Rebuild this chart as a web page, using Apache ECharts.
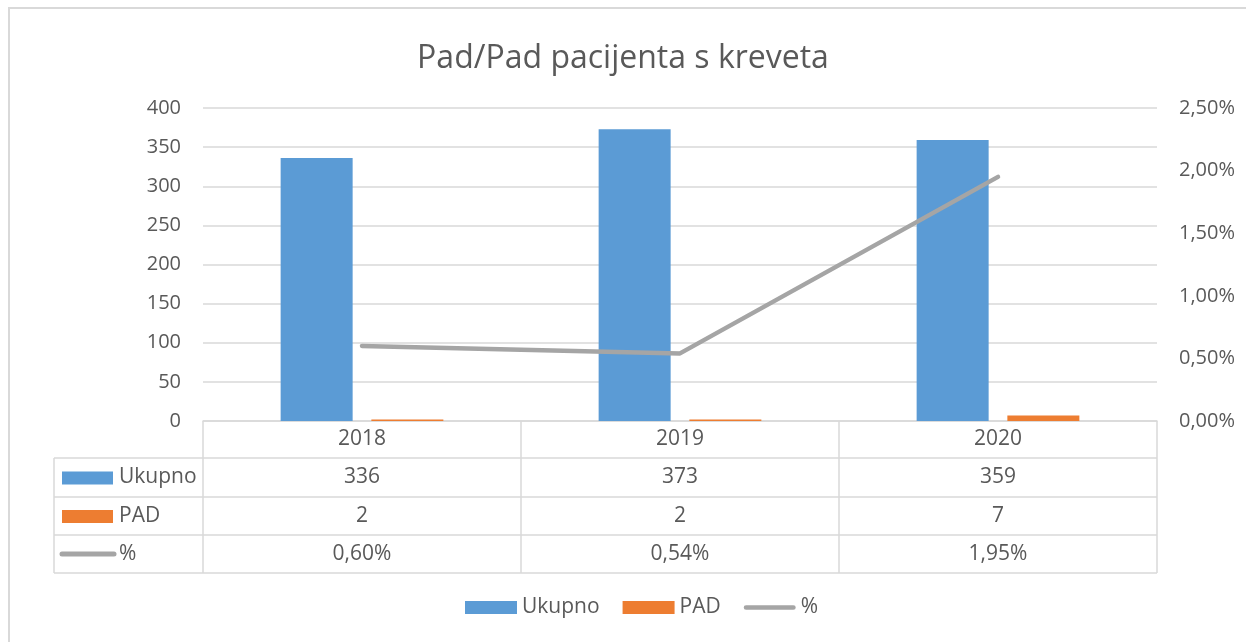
<!DOCTYPE html>
<html>
<head>
<meta charset="utf-8">
<script src="https://cdn.jsdelivr.net/npm/echarts@6/dist/echarts.min.js"></script>
<style>html,body{margin:0;padding:0;background:#fff;}#c{width:1246px;height:642px;}</style>
</head>
<body>
<div id="c"></div>
<script>
var categories = ['2018', '2019', '2020'];
var ukupno = [336, 373, 359];
var pad = [2, 2, 7];
var pct = [0.0060, 0.0054, 0.0195];
var seriesNames = ['Ukupno', 'PAD', '%'];

var FONT = 'Open Sans';
var TXT = '#595959';
var GRID = '#d9d9d9';
var BLUE = '#5b9bd5', ORANGE = '#ed7d31', GRAY = '#a5a5a5';
var FS = 20;   // axis labels
var FT = 21;   // table + legend

function fmtPct(v, d) { return (v * 100).toFixed(d).replace('.', ',') + '%'; }

var chart = echarts.init(document.getElementById('c'), null, {renderer: 'canvas'});
var G = {left: 203, right: 89, top: 108, bottom: 221};
chart.setOption({
  animation: false,
  textStyle: {fontFamily: FONT},
  title: {text: 'Pad/Pad pacijenta s kreveta', left: 'center', top: 38,
    textStyle: {fontFamily: FONT, fontSize: 32, fontWeight: 'normal', color: TXT}},
  grid: G,
  legend: {bottom: 19, left: 460, itemWidth: 52, itemHeight: 13, itemGap: 23,
    textStyle: {fontFamily: FONT, fontSize: FT, color: TXT},
    data: [{name: 'Ukupno', icon: 'rect'}, {name: 'PAD', icon: 'rect'},
      {name: '%', icon: 'path://M2.5,0 L53.5,0 A2.5,2.5 0 0 1 53.5,5 L2.5,5 A2.5,2.5 0 0 1 2.5,0 Z'}]},
  xAxis: {type: 'category', data: categories,
    axisLine: {lineStyle: {color: GRID, width: 1.5}}, axisTick: {show: false}, axisLabel: {show: false}},
  yAxis: [
    {type: 'value', min: 0, max: 400, interval: 50,
      axisLine: {show: false}, axisTick: {show: false},
      axisLabel: {color: TXT, fontSize: FS, fontFamily: FONT, margin: 22},
      splitLine: {lineStyle: {color: GRID, width: 1.5}}},
    {type: 'value', min: 0, max: 0.025, interval: 0.005,
      axisLine: {show: false}, axisTick: {show: false}, splitLine: {show: false},
      axisLabel: {color: TXT, fontSize: FS, fontFamily: FONT, margin: 22,
        formatter: function (v) { return fmtPct(v, 2); }}}
  ],
  series: [
    {name: seriesNames[0], type: 'bar', data: ukupno, barWidth: 72, barGap: '26%', itemStyle: {color: BLUE}},
    {name: seriesNames[1], type: 'bar', data: pad, barWidth: 72, itemStyle: {color: ORANGE}},
    {name: seriesNames[2], type: 'line', yAxisIndex: 1, data: pct, symbol: 'none',
      lineStyle: {color: GRAY, width: 4.5, cap: 'round', join: 'round'}, itemStyle: {color: GRAY}}
  ]
});

// Data table below the plot
var x0 = G.left, x1 = 1246 - G.right, yTop = 642 - G.bottom;
var rowH = [37, 39, 38, 38];
var ys = [yTop];
rowH.forEach(function (h) { ys.push(ys[ys.length - 1] + h); });
var labX = 54;
var lineStyle = {stroke: GRID, lineWidth: 1.5};
var els = [];
els.push({type: 'rect', shape: {x: 9, y: 8, width: 1400, height: 800}, style: {fill: 'none', stroke: GRID, lineWidth: 2}, silent: true});
for (var r = 1; r < ys.length; r++) {
  els.push({type: 'line', shape: {x1: labX, y1: ys[r], x2: x1, y2: ys[r]}, style: lineStyle});
}
var bounds = [x0];
categories.forEach(function (c, i) { bounds.push(x0 + (i + 1) * (x1 - x0) / categories.length); });
bounds.forEach(function (bx) {
  els.push({type: 'line', shape: {x1: bx, y1: yTop, x2: bx, y2: ys[ys.length - 1]}, style: lineStyle});
});
els.push({type: 'line', shape: {x1: labX, y1: ys[1], x2: labX, y2: ys[ys.length - 1]}, style: lineStyle});

function cellText(x, y, t, align) {
  els.push({type: 'text', x: x, y: y, style: {text: t, fill: TXT, font: FT + 'px "' + FONT + '"', align: align || 'center', verticalAlign: 'middle'}});
}
var rows = [
  categories,
  ukupno.map(String),
  pad.map(String),
  pct.map(function (v) { return fmtPct(v, 2); })
];
rows.forEach(function (row, r) {
  var yc = (ys[r] + ys[r + 1]) / 2;
  row.forEach(function (t, i) {
    var cx = chart.convertToPixel({xAxisIndex: 0}, categories[i]);
    cellText(cx, yc, t);
  });
});
[1, 2, 3].forEach(function (r) {
  var yc = (ys[r] + ys[r + 1]) / 2;
  var name = seriesNames[r - 1];
  if (r < 3) {
    els.push({type: 'rect', shape: {x: 62, y: yc - 6, width: 51, height: 13}, style: {fill: r === 1 ? BLUE : ORANGE}});
  } else {
    els.push({type: 'line', shape: {x1: 62, y1: yc, x2: 114, y2: yc}, style: {stroke: GRAY, lineWidth: 5, lineCap: 'round'}});
  }
  cellText(119, yc, name, 'left');
});
chart.setOption({graphic: els});
</script>
</body>
</html>
